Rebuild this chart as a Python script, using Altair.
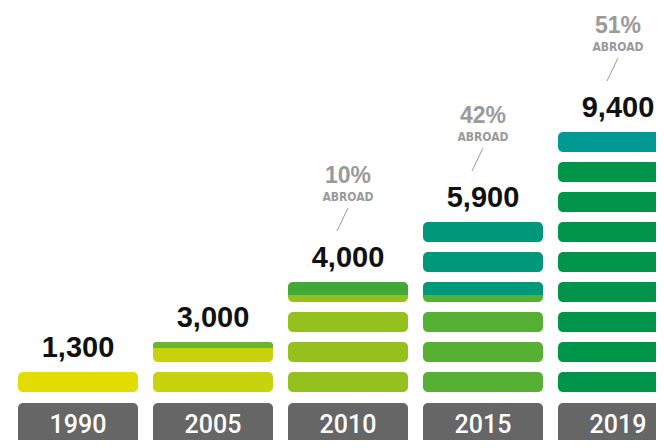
import altair as alt
import pandas as pd

# ---- data ----
years = ["1990", "2005", "2010", "2015", "2019"]
employees = ["1,300", "3,000", "4,000", "5,900", "9,400"]
pill_counts = [1, 2, 4, 6, 9]
abroad_pct = ["", "", "10%", "42%", "51%"]
pill_colors = [
    ["#e2dc00"],
    ["#c6d30d", "#c6d30d"],
    ["#95c11f", "#95c11f", "#95c11f", "#95c11f"],
    ["#55b033", "#55b033", "#55b033", "#55b033", "#00987a", "#00987a"],
    ["#00954a"] * 8 + ["#009a93"],
]
# partial colour on top of some pills
tint_year = ["2005", "2010", "2015"]
tint_pill = [1, 3, 3]
tint_frac = [0.3, 0.65, 0.65]
tint_color = ["#6ab42e", "#43a836", "#00987a"]

PILL = 2 / 3          # pill thickness relative to row pitch
HALF = 60 / 135       # half pill width relative to column pitch

col = {y: i for i, y in enumerate(years)}
pills = pd.DataFrame(
    [
        {"c": col[y], "y0": k, "y1": k + PILL, "color": c}
        for y, cols in zip(years, pill_colors)
        for k, c in enumerate(cols)
    ]
)
tints = pd.DataFrame(
    [
        {"c": col[y], "y0": k + PILL * (1 - f), "y1": k + PILL, "color": c}
        for y, k, f, c in zip(tint_year, tint_pill, tint_frac, tint_color)
    ]
)
labels = pd.DataFrame(
    {
        "c": list(range(len(years))),
        "top": [n - 1 + PILL for n in pill_counts],
        "emp": employees,
        "pct": abroad_pct,
    }
)
abroad = labels[labels["pct"] != ""].copy()
abroad["word"] = "ABROAD"
base = pd.DataFrame({"c": list(range(len(years))), "year": years, "b0": [0] * 5, "b1": [-3] * 5})

W, H = 648, 432
xs = alt.Scale(domain=[-70 / 135, (W - 70) / 135], nice=False, zero=False)
ys = alt.Scale(domain=[0, 12.8], range=[384, 0], nice=False, zero=False)


def band(chart):
    return chart.transform_calculate(
        xa=f"datum.c - {HALF}", xb=f"datum.c + {HALF}"
    ).encode(
        x=alt.X("xa:Q", scale=xs, axis=None),
        x2="xb:Q",
    )


X = alt.X("c:Q", scale=xs, axis=None)

bars = band(alt.Chart(pills).mark_bar(cornerRadius=5, clip=True)).encode(
    y=alt.Y("y0:Q", scale=ys, axis=None),
    y2="y1:Q",
    color=alt.Color("color:N", scale=None),
)
tint_bars = band(
    alt.Chart(tints).mark_bar(cornerRadiusTopLeft=5, cornerRadiusTopRight=5, clip=True)
).encode(
    y=alt.Y("y0:Q", scale=ys, axis=None),
    y2="y1:Q",
    color=alt.Color("color:N", scale=None),
)
boxes = band(
    alt.Chart(base).mark_bar(
        cornerRadiusTopLeft=5, cornerRadiusTopRight=5, color="#666666", yOffset=11, clip=True
    )
).encode(
    y=alt.Y("b0:Q", scale=ys, axis=None),
    y2="b1:Q",
)
year_text = alt.Chart(base).mark_text(
    font="Roboto", fontWeight=500, fontSize=25, color="white", dy=41, baseline="alphabetic"
).encode(x=X, y=alt.Y("b0:Q", scale=ys, axis=None), text="year:N")

NUM = "Liberation Sans"
COND = "DejaVu Sans Condensed"
emp_text = alt.Chart(labels).mark_text(
    font=NUM, fontWeight="bold", fontSize=29, color="#111111", dy=-15, baseline="alphabetic"
).encode(x=X, y=alt.Y("top:Q", scale=ys, axis=None), text="emp:N")
pct_text = alt.Chart(abroad).mark_text(
    font=NUM, fontWeight="bold", fontSize=23, color="#9a9a9a", dy=-99, baseline="alphabetic"
).encode(x=X, y=alt.Y("top:Q", scale=ys, axis=None), text="pct:N")
word_text = alt.Chart(abroad).mark_text(
    font=COND, fontWeight="bold", fontSize=12, color="#9a9a9a", dy=-81, baseline="alphabetic"
).encode(x=X, y=alt.Y("top:Q", scale=ys, axis=None), text="word:N")
slash = alt.Chart(abroad).mark_point(
    shape="M0.478,-1L-0.478,1", size=529, filled=False, stroke="#9a9a9a",
    strokeWidth=1, opacity=1, xOffset=-5.5, yOffset=-62.5,
).encode(x=X, y=alt.Y("top:Q", scale=ys, axis=None))

chart = (
    alt.layer(boxes, year_text, bars, tint_bars, emp_text, pct_text, word_text, slash)
    .properties(width=W, height=H, autosize=alt.AutoSizeParams(type="none"), padding=0)
    .configure_view(stroke=None)
)
chart.save("out.html", embed_options={"renderer": "svg", "actions": False})
